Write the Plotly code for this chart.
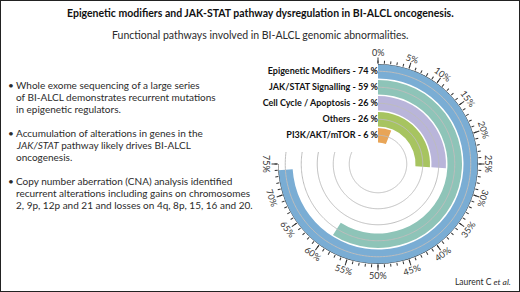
import numpy as np
import plotly.graph_objects as go

# ---- data ----
categories = ["Epigenetic Modifiers", "JAK/STAT Signalling", "Cell Cycle / Apoptosis", "Others", "PI3K/AKT/mTOR"]
percent = [74, 59, 26, 26, 6]
colors = ["#7aadd4", "#8ec4b8", "#b9b5da", "#a7c460", "#e8a557"]
tick_values = list(range(0, 80, 5))
tick_labels = [f"{v}%" for v in tick_values]
minor_values = list(range(0, 76, 1))

title = "Epigenetic modifiers and JAK-STAT pathway dysregulation in BI-ALCL oncogenesis."
subtitle = "Functional pathways involved in BI-ALCL genomic abnormalities."
bullets = [
    ["Whole exome sequencing of a large series",
     "of BI-ALCL demonstrates recurrent mutations",
     "in epigenetic regulators."],
    ["Accumulation of alterations in genes in the",
     "<i>JAK/STAT</i> pathway likely drives BI-ALCL",
     "oncogenesis."],
    ["Copy number aberration (CNA) analysis identified",
     "recurrent alterations including gains on chromosomes",
     "2, 9p, 12p and 21 and losses on 4q, 8p, 15, 16 and 20."],
]
credit = "Laurent C <i>et al.</i>"

W, H = 520, 292
FONT = "Lato"
TXT = "#2b2b2b"

# polar geometry (pixels)
cx, cy, R = 378, 164, 100
dom_x = [(cx - R) / W, (cx + R) / W]
dom_y = [(H - cy - R) / H, (H - cy + R) / H]

PCT2DEG = 3.6
track_step = 16
bar_thick = 14.5
n = len(categories)
centers = [R - bar_thick / 2 - track_step * i for i in range(n)]
bases = [c - bar_thick / 2 for c in centers]

fig = go.Figure()

# grey track arcs (cut under the label block)
cut = 12
for c in centers:
    end = 270 + np.degrees(np.arcsin(cut / c))
    th = np.linspace(0, end, 300)
    fig.add_trace(go.Scatterpolar(r=[c] * len(th), theta=th, mode="lines",
                                  line=dict(color="#bdbdbd", width=1),
                                  hoverinfo="skip", showlegend=False))

# bars
fig.add_trace(go.Barpolar(
    r=[bar_thick] * n, base=bases,
    theta=[p * PCT2DEG / 2 for p in percent],
    width=[p * PCT2DEG for p in percent],
    marker=dict(color=colors, line=dict(width=0)),
    showlegend=False, hoverinfo="skip"))

# axis line 0..75%
th = np.linspace(0, tick_values[-1] * PCT2DEG, 300)
fig.add_trace(go.Scatterpolar(r=[R] * len(th), theta=th, mode="lines",
                              line=dict(color="#333333", width=1),
                              hoverinfo="skip", showlegend=False))

# labels for bars
fig.add_trace(go.Scatterpolar(
    r=centers, theta=[0] * n, mode="text",
    text=[f"<b>{c} - {p} %</b>" for c, p in zip(categories, percent)],
    textposition="middle left",
    textfont=dict(family=FONT, size=9, color="#111111"),
    cliponaxis=False, hoverinfo="skip", showlegend=False))

# dummy trace for the second (major tick) polar
fig.add_trace(go.Scatterpolar(r=[0], theta=[0], mode="markers", marker=dict(opacity=0),
                              subplot="polar2", hoverinfo="skip", showlegend=False))

ang_common = dict(direction="clockwise", rotation=90, showgrid=False, showline=False,
                  showticklabels=False, ticks="outside", tickcolor="#333333", tickwidth=1)

fig.update_layout(
    width=W, height=H, margin=dict(l=0, r=0, t=0, b=0),
    paper_bgcolor="white", plot_bgcolor="white",
    polar=dict(domain=dict(x=dom_x, y=dom_y), bgcolor="rgba(0,0,0,0)",
               radialaxis=dict(range=[0, R], visible=False),
               angularaxis=dict(tickmode="array", tickvals=[v * PCT2DEG for v in minor_values],
                                ticklen=3, **ang_common)),
    polar2=dict(domain=dict(x=dom_x, y=dom_y), bgcolor="rgba(0,0,0,0)",
                radialaxis=dict(range=[0, R], visible=False),
                angularaxis=dict(tickmode="array", tickvals=[v * PCT2DEG for v in tick_values],
                                 ticklen=6, **ang_common)),
    showlegend=False,
)

ann = []
# angular tick labels, tangential
lab_r = 111
for v, t in zip(tick_values, tick_labels):
    a = v * PCT2DEG
    rad = np.radians(a)
    x = cx + lab_r * np.sin(rad)
    y = cy - lab_r * np.cos(rad)
    ang = a if a <= 110 else a - 180
    ann.append(dict(x=x / W, y=1 - y / H, xref="paper", yref="paper", text=t,
                    showarrow=False, xanchor="center", yanchor="middle", textangle=ang,
                    font=dict(family=FONT, size=9, color="#333333")))

ann.append(dict(x=0.5, y=1 - 13 / H, xref="paper", yref="paper", text=f"<b>{title}</b>",
                showarrow=False, xanchor="center", yanchor="middle",
                font=dict(family=FONT, size=10.5, color="#111111")))
ann.append(dict(x=0.5, y=1 - 35 / H, xref="paper", yref="paper", text=subtitle,
                showarrow=False, xanchor="center", yanchor="middle",
                font=dict(family=FONT, size=10.5, color=TXT)))

y0 = 85
for group in bullets:
    ann.append(dict(x=6 / W, y=1 - y0 / H, xref="paper", yref="paper", text="•",
                    showarrow=False, xanchor="left", yanchor="middle",
                    font=dict(family=FONT, size=10, color=TXT)))
    for j, line in enumerate(group):
        ann.append(dict(x=14 / W, y=1 - (y0 + 12 * j) / H, xref="paper", yref="paper",
                        text=line, showarrow=False, xanchor="left", yanchor="middle",
                        font=dict(family=FONT, size=10, color=TXT)))
    y0 += 48

ann.append(dict(x=513 / W, y=1 - 282 / H, xref="paper", yref="paper", text=credit,
                showarrow=False, xanchor="right", yanchor="middle",
                font=dict(family=FONT, size=8.5, color=TXT)))

fig.update_layout(annotations=ann,
                  shapes=[dict(type="rect", xref="paper", yref="paper", x0=0, y0=0, x1=1, y1=1,
                               line=dict(color="#222222", width=2))])

fig.write_html("out.html", config={"displayModeBar": False, "staticPlot": True},
               post_script="document.body.style.margin='0';document.body.style.overflow='hidden';")
